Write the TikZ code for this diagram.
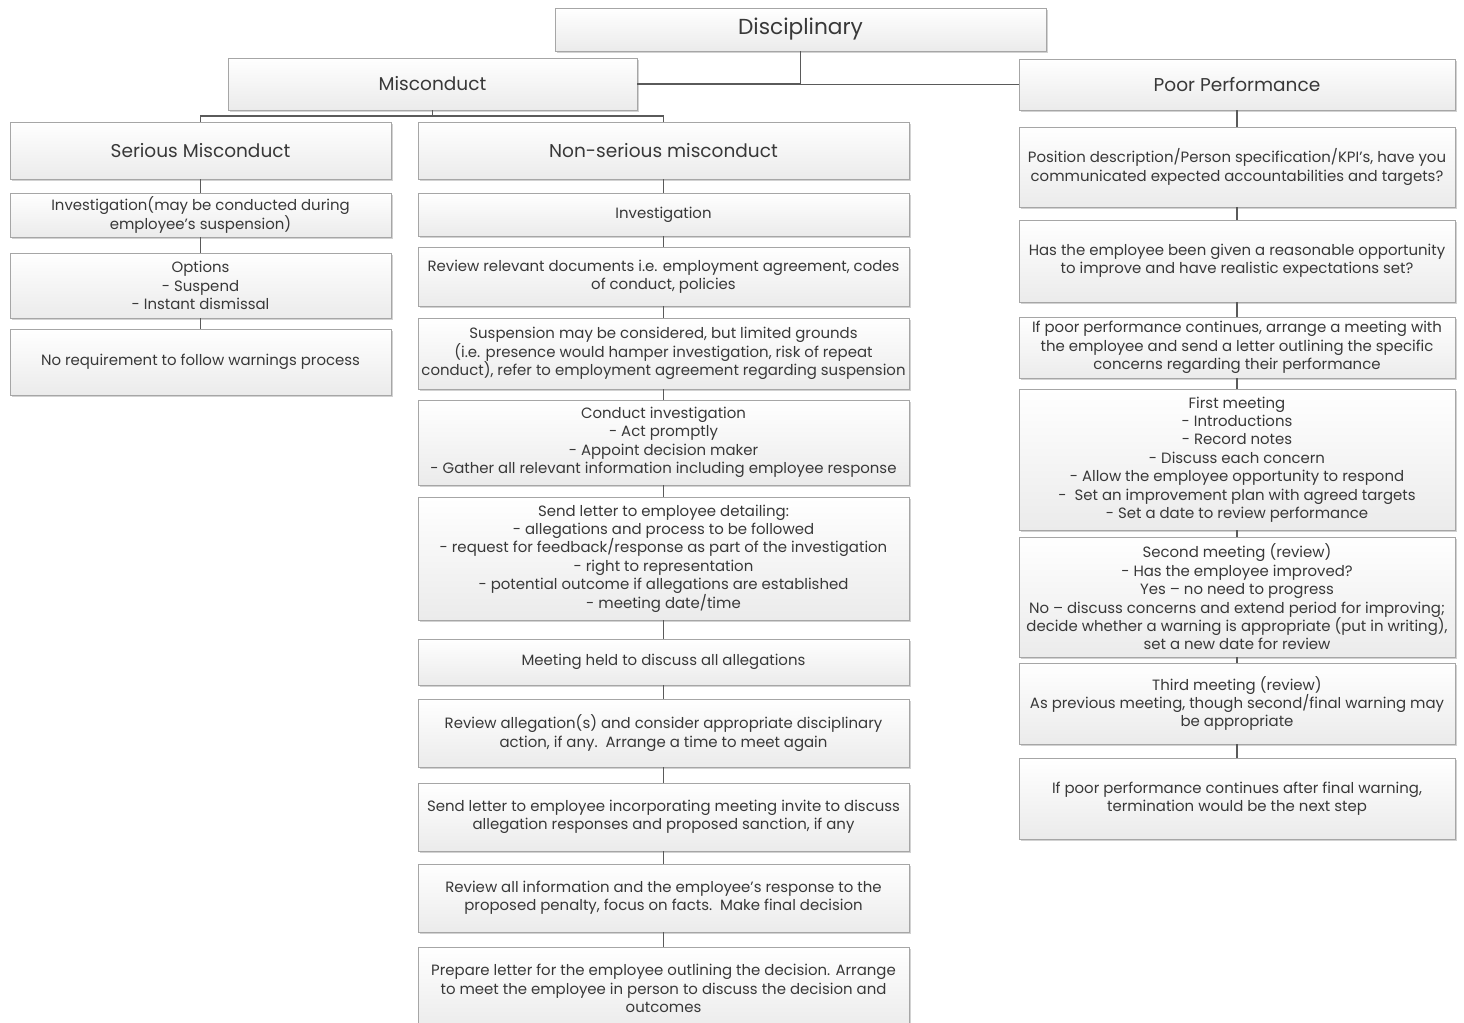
\documentclass[tikz,border=0pt]{standalone}
\usepackage{fontspec}
\setmainfont{Poppins}
\usepackage{xcolor}
\usepackage{tikz}
\usetikzlibrary{shadows}
\definecolor{boxline}{HTML}{A6A6A6}
\definecolor{boxtext}{HTML}{383838}
\definecolor{boxbottom}{HTML}{EBEBEB}
\definecolor{linkline}{HTML}{5A5A5A}
\tikzset{
	card/.style={draw=boxline,line width=0.6pt,top color=white,bottom color=boxbottom,
		text=boxtext,align=center,inner sep=1pt,font=\fontsize{11.2}{13.8}\selectfont,
		drop shadow={shadow xshift=1.6pt,shadow yshift=-1.6pt,fill=black!35,opacity=0.5}},
	headcard/.style={card,font=\fontsize{13.9}{16}\selectfont},
	colL/.style={card,minimum width=285.75pt},
	colM/.style={card,minimum width=368.25pt},
	colR/.style={card,minimum width=327pt},
	link/.style={draw=linkline,line width=1.4pt}
}
\begin{document}
\begin{tikzpicture}[x=0.75pt,y=-0.75pt]
		\useasboundingbox (0,0) rectangle (1464,1023);
		\node[headcard,minimum width=368.25pt,minimum height=32.25pt,font=\fontsize{16.3}{19}\selectfont] (disc) at (800.5,29.5) {Disciplinary};
		\node[headcard,minimum width=306.75pt,minimum height=39pt] (mis) at (432.5,84) {Misconduct};
		\node[headcard,minimum width=327pt,minimum height=38.25pt] (poor) at (1237,84.5) {Poor Performance};
		\node[headcard,minimum width=285.75pt,minimum height=42.75pt] (sermis) at (200.5,150.5) {Serious Misconduct};
		\node[headcard,minimum width=368.25pt,minimum height=42.75pt] (nonser) at (663.5,150.5) {Non-serious misconduct};

		\node[colL,minimum height=33pt] (l1) at (200.5,215) {Investigation(may be conducted during\\employee's suspension)};
		\node[colL,minimum height=48.75pt] (l2) at (200.5,285.5) {Options\\- Suspend\\- Instant dismissal};
		\node[colL,minimum height=49.5pt] (l3) at (200.5,362) {No requirement to follow warnings process};

		\node[colM,minimum height=32.25pt] (m1) at (663.5,214.5) {Investigation};
		\node[colM,minimum height=44.25pt] (m2) at (663.5,276.5) {Review relevant documents i.e. employment agreement, codes\\of conduct, policies};
		\node[colM,minimum height=53.25pt] (m3) at (663.5,353.5) {Suspension may be considered, but limited grounds\\(i.e. presence would hamper investigation, risk of repeat\\conduct), refer to employment agreement regarding suspension};
		\node[colM,minimum height=63.75pt] (m4) at (663.5,442.5) {Conduct investigation\\- Act promptly\\- Appoint decision maker\\- Gather all relevant information including employee response};
		\node[colM,minimum height=92.25pt] (m5) at (663.5,558.5) {Send letter to employee detailing:\\- allegations and process to be followed\\- request for feedback/response as part of the investigation\\- right to representation\\- potential outcome if allegations are established\\- meeting date/time};
		\node[colM,minimum height=34.5pt] (m6) at (663.5,662) {Meeting held to discuss all allegations};
		\node[colM,minimum height=51pt] (m7) at (663.5,733) {Review allegation(s) and consider appropriate disciplinary\\action, if any.\ \ Arrange a time to meet again};
		\node[colM,minimum height=51pt] (m8) at (663.5,817) {Send letter to employee incorporating meeting invite to discuss\\allegation responses and proposed sanction, if any};
		\node[colM,minimum height=51pt] (m9) at (663.5,898) {Review all information and the employee's response to the\\proposed penalty, focus on facts.\ \ Make final decision};
		\node[colM,minimum height=62.25pt] (m10) at (663.5,988.5) {Prepare letter for the employee outlining the decision. Arrange\\to meet the employee in person to discuss the decision and\\outcomes};

		\node[colR,minimum height=60pt] (r1) at (1237,167) {Position description/Person specification/KPI's, have you\\communicated expected accountabilities and targets?};
		\node[colR,minimum height=61.5pt] (r2) at (1237,261) {Has the employee been given a reasonable opportunity\\to improve and have realistic expectations set?};
		\node[colR,minimum height=45.75pt] (r3) at (1237,347.5) {If poor performance continues, arrange a meeting with\\the employee and send a letter outlining the specific\\concerns regarding their performance};
		\node[colR,minimum height=105.75pt] (r4) at (1237,459.5) {First meeting\\- Introductions\\- Record notes\\- Discuss each concern\\- Allow the employee opportunity to respond\\-\ \ Set an improvement plan with agreed targets\\- Set a date to review performance};
		\node[colR,minimum height=90pt] (r5) at (1237,597) {Second meeting (review)\\- Has the employee improved?\\Yes -- no need to progress\\No -- discuss concerns and extend period for improving;\\decide whether a warning is appropriate (put in writing),\\set a new date for review};
		\node[colR,minimum height=60.75pt] (r6) at (1237,703.5) {Third meeting (review)\\As previous meeting, though second/final warning may\\be appropriate};
		\node[colR,minimum height=60.75pt] (r7) at (1237,798.5) {If poor performance continues after final warning,\\termination would be the next step};

		\draw[link] (disc.south) |- (mis.east);
		\draw[link] (disc.south) |- (poor.west);
		\draw[link] (mis.south) -- ++(0,6) -| (sermis.north);
		\draw[link] (mis.south) -- ++(0,6) -| (nonser.north);
		\foreach \a/\b in {sermis/l1,l1/l2,l2/l3}
			\draw[link] (\a) -- (\b);
		\foreach \a/\b in {nonser/m1,m1/m2,m2/m3,m3/m4,m4/m5,m5/m6,m6/m7,m7/m8,m8/m9,m9/m10}
			\draw[link] (\a) -- (\b);
		\foreach \a/\b in {poor/r1,r1/r2,r2/r3,r3/r4,r4/r5,r5/r6,r6/r7}
			\draw[link] (\a) -- (\b);
	\end{tikzpicture}
\end{document}
